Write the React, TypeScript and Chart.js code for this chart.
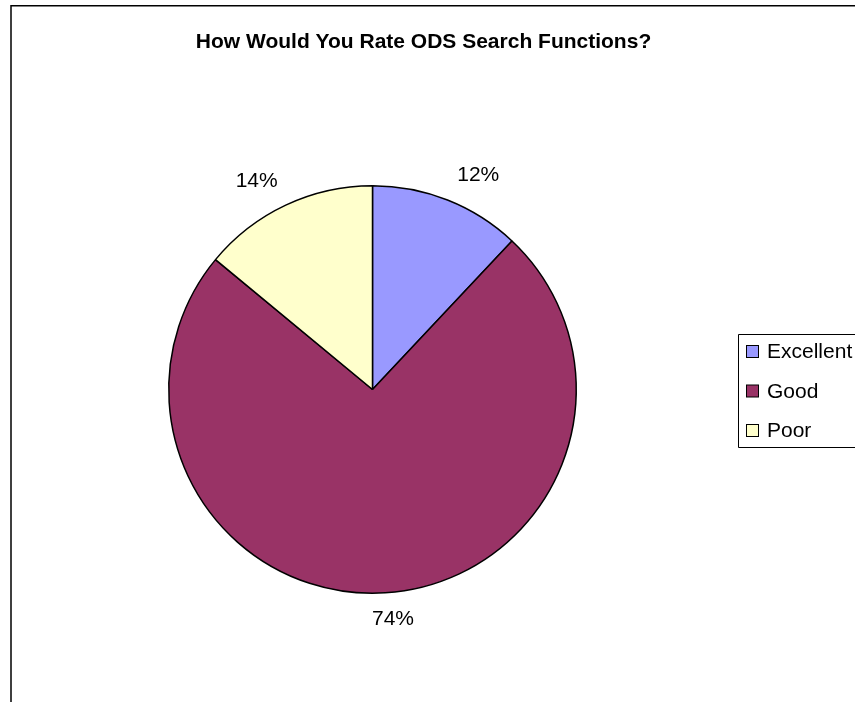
import React, { useEffect, useRef } from "react";
import { Chart, registerables } from "chart.js";

Chart.register(...registerables);

const TITLE = "How Would You Rate ODS Search Functions?";
const categories = ["Excellent", "Good", "Poor"];
const values = [12, 74, 14];
const colors = ["#9999FF", "#993366", "#FFFFCC"];

const FONT = "'Liberation Sans', Arial, sans-serif";

const decorPlugin = {
  id: "decor",
  beforeDraw(chart: any) {
    const ctx = chart.ctx;
    ctx.save();
    ctx.fillStyle = "#ffffff";
    ctx.fillRect(0, 0, chart.width, chart.height);
    // chart border (left and top visible)
    ctx.strokeStyle = "#000000";
    ctx.lineWidth = 1.5;
    ctx.beginPath();
    ctx.moveTo(11, chart.height + 5);
    ctx.lineTo(11, 5.75);
    ctx.lineTo(chart.width + 5, 5.75);
    ctx.stroke();
    // title
    ctx.fillStyle = "#000000";
    ctx.font = `bold 21px ${FONT}`;
    ctx.textAlign = "center";
    ctx.textBaseline = "alphabetic";
    ctx.fillText(TITLE, 423.5, 48);
    ctx.restore();
  },
  afterDatasetsDraw(chart: any) {
    const ctx = chart.ctx;
    const meta = chart.getDatasetMeta(0);
    const data = chart.data.datasets[0].data as number[];
    const total = data.reduce((a, b) => a + b, 0);
    ctx.save();
    ctx.fillStyle = "#000000";
    ctx.font = `21px ${FONT}`;
    ctx.textAlign = "center";
    ctx.textBaseline = "middle";
    meta.data.forEach((arc: any, i: number) => {
      const p = arc.getProps(["x", "y", "startAngle", "endAngle", "outerRadius"], true);
      const mid = (p.startAngle + p.endAngle) / 2;
      const lx = p.x + Math.cos(mid) * p.outerRadius * 1.37 + 3;
      const ly = p.y + Math.sin(mid) * p.outerRadius * 1.13;
      ctx.fillText(`${Math.round((data[i] / total) * 100)}%`, lx, ly);
    });
    // legend
    const bx = 738.5;
    const by = 334.5;
    const rowH = 39.5;
    ctx.strokeStyle = "#000000";
    ctx.lineWidth = 1;
    ctx.beginPath();
    ctx.moveTo(chart.width + 5, by);
    ctx.lineTo(bx, by);
    ctx.lineTo(bx, by + 113);
    ctx.lineTo(chart.width + 5, by + 113);
    ctx.stroke();
    ctx.textAlign = "left";
    ctx.font = `21px ${FONT}`;
    categories.forEach((c, i) => {
      const cy = 351.5 + i * rowH;
      ctx.fillStyle = colors[i];
      ctx.fillRect(746.5, cy - 6, 12, 12);
      ctx.strokeRect(746.5, cy - 6, 12, 12);
      ctx.fillStyle = "#000000";
      ctx.fillText(c, 767, cy + 1);
    });
    ctx.restore();
  },
};

export default function App() {
  const ref = useRef<HTMLCanvasElement | null>(null);
  useEffect(() => {
    document.body.style.margin = "0";
    if (!ref.current) return;
    const chart = new Chart(ref.current, {
      type: "pie",
      data: {
        labels: categories,
        datasets: [
          {
            data: values,
            backgroundColor: colors,
            borderColor: "#000000",
            borderWidth: 1.5,
            hoverOffset: 0,
          },
        ],
      },
      options: {
        responsive: false,
        animation: false,
        layout: { padding: { left: 168, top: 185, right: 278, bottom: 108 } },
        plugins: {
          legend: { display: false },
          title: { display: false },
          tooltip: { enabled: false },
        },
      },
      plugins: [decorPlugin],
    });
    return () => chart.destroy();
  }, []);
  return (
    <div style={{ width: 855, height: 702 }}>
      <canvas ref={ref} width={855} height={702} style={{ display: "block" }} />
    </div>
  );
}
